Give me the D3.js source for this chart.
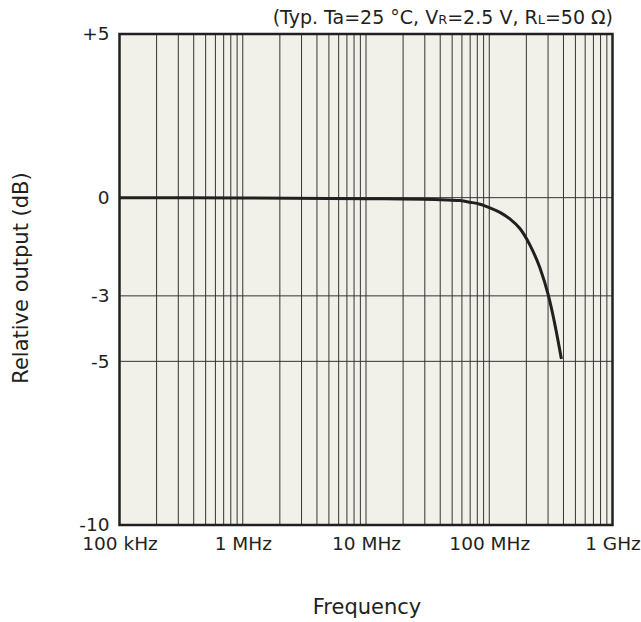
<!DOCTYPE html>
<html><head><meta charset="utf-8">
<script src="https://cdn.jsdelivr.net/npm/d3@7"></script>
<style>body{margin:0;background:#fff;} text{font-family:"DejaVu Sans",Verdana,sans-serif;fill:#231f20;}</style>
</head><body>
<svg id="c" width="641" height="622"></svg>
<script>
const freqHz = [1e5, 1e6, 1e7, 4.0e7, 5.8e7, 7.0e7, 8.4e7, 1.01e8, 1.22e8, 1.47e8, 1.78e8, 2.14e8, 2.58e8, 3.0e8, 3.42e8, 3.85e8];
const outputDb = [0, -0.01, -0.03, -0.06, -0.09, -0.14, -0.2, -0.31, -0.45, -0.65, -0.95, -1.45, -2.15, -2.95, -3.9, -4.93];
const xTickValues = [1e5, 1e6, 1e7, 1e8, 1e9];
const xTickLabels = ["100 kHz", "1 MHz", "10 MHz", "100 MHz", "1 GHz"];
const yTickValues = [5, 0, -3, -5, -10];
const yTickLabels = ["+5", "0", "-3", "-5", "-10"];
const yGridValues = [0, -3, -5];

const svg = d3.select("#c");
const L = 119.5, R = 612.5, T = 34, B = 525;
const x = d3.scaleLog().domain([1e5, 1e9]).range([L, R]);
const y = d3.scaleLinear().domain([5, -10]).range([T, B]);

svg.append("rect").attr("x", L).attr("y", T).attr("width", R - L).attr("height", B - T).attr("fill", "#f2f1e9");

const vgrid = [];
for (let d = 5; d < 9; d++) for (let m = 1; m <= 9; m++) vgrid.push(m * Math.pow(10, d));
const g = svg.append("g");
g.selectAll("line.v").data(vgrid.filter(v => v > 1e5)).enter().append("line")
  .attr("x1", d => x(d)).attr("x2", d => x(d)).attr("y1", T).attr("y2", B)
  .attr("stroke", "#333").attr("stroke-width", 1);
g.selectAll("line.h").data(yGridValues).enter().append("line")
  .attr("x1", L).attr("x2", R).attr("y1", d => y(d)).attr("y2", d => y(d))
  .attr("stroke", "#333").attr("stroke-width", 1);

const line = d3.line().x((d, i) => x(freqHz[i])).y(d => y(d)).curve(d3.curveMonotoneX);
svg.append("path").attr("d", line(outputDb)).attr("fill", "none").attr("stroke", "#231f20").attr("stroke-width", 3);

svg.append("rect").attr("x", L).attr("y", T).attr("width", R - L).attr("height", B - T)
  .attr("fill", "none").attr("stroke", "#231f20").attr("stroke-width", 2.5);

const xAxis = d3.axisBottom(x).tickValues(xTickValues).tickFormat((d, i) => xTickLabels[i]).tickSize(0).tickPadding(12);
const xa = svg.append("g").attr("transform", `translate(0,${B})`).call(xAxis);
const yAxis = d3.axisLeft(y).tickValues(yTickValues).tickFormat((d, i) => yTickLabels[i]).tickSize(0).tickPadding(10);
const ya = svg.append("g").attr("transform", `translate(${L},0)`).call(yAxis);
[xa, ya].forEach(a => { a.select(".domain").remove(); a.selectAll("text").style("font-size", "18.5px").attr("fill", "#231f20").style("font-family", '"DejaVu Sans",Verdana,sans-serif'); });

svg.append("text").attr("x", 367).attr("y", 614).attr("text-anchor", "middle").style("font-size", "21px").text("Frequency");
svg.append("text").attr("transform", "translate(28,278) rotate(-90)").attr("text-anchor", "middle").style("font-size", "21px").text("Relative output (dB)");

const t = svg.append("text").attr("x", 613).attr("y", 24).attr("text-anchor", "end").style("font-size", "19px");
t.append("tspan").text("(Typ. Ta=25 °C, V");
t.append("tspan").style("font-size", "13px").text("R");
t.append("tspan").text("=2.5 V, R");
t.append("tspan").style("font-size", "13px").text("L");
t.append("tspan").text("=50 Ω)");
</script>
</body></html>
